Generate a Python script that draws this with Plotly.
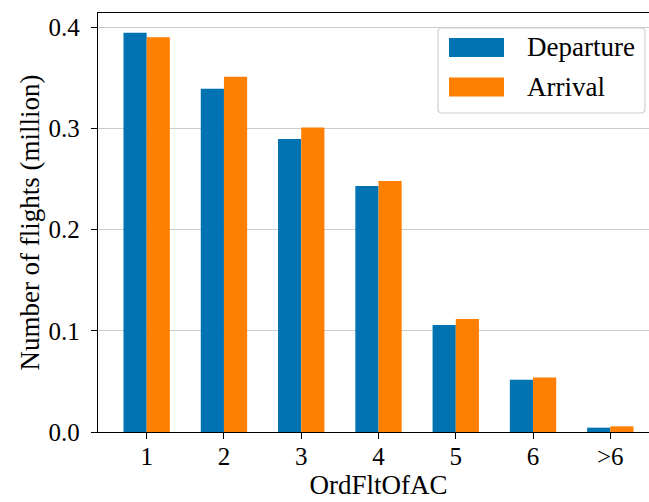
import plotly.graph_objects as go

categories = ["1", "2", "3", "4", "5", "6", ">6"]
departure = [0.3945, 0.339, 0.2895, 0.243, 0.1056, 0.0515, 0.0043]
arrival = [0.390, 0.351, 0.3007, 0.2479, 0.1116, 0.0539, 0.0056]
series_names = ["Departure", "Arrival"]
colors = ["#0173B2", "#FF7F00"]
y_ticks = [0.0, 0.1, 0.2, 0.3, 0.4]

FONT = "Liberation Serif, Times New Roman, serif"
FS_TICK = 25
FS_LAB = 27
# the reference figure is cropped on the right; the axes end just past the window edge
W, H = 659, 502
L, R, T, B = 98, 0, 13, 70

fig = go.Figure()
for name, vals, col in zip(series_names, [departure, arrival], colors):
    fig.add_trace(go.Bar(x=categories, y=vals, name=name, marker_color=col,
                         marker_line_width=0, showlegend=False))

# manual legend (matplotlib style)
pw, ph = W - L - R, H - T - B
def px(x):
    return (x - L) / pw
def py(y):
    return (H - B - y) / ph

x0, x1, y0, y1, r = 438, 645, 28, 113, 4
path = (f"M {px(x0+r)},{py(y0)} L {px(x1-r)},{py(y0)} Q {px(x1)},{py(y0)} {px(x1)},{py(y0+r)} "
        f"L {px(x1)},{py(y1-r)} Q {px(x1)},{py(y1)} {px(x1-r)},{py(y1)} "
        f"L {px(x0+r)},{py(y1)} Q {px(x0)},{py(y1)} {px(x0)},{py(y1-r)} "
        f"L {px(x0)},{py(y0+r)} Q {px(x0)},{py(y0)} {px(x0+r)},{py(y0)} Z")
fig.add_shape(type="path", path=path, xref="paper", yref="paper",
              line=dict(color="#d0d0d0", width=1.2), fillcolor="rgba(255,255,255,0.85)", layer="above")
for i, (name, col) in enumerate(zip(series_names, colors)):
    cy = 47.5 + i * 39.5
    fig.add_shape(type="rect", xref="paper", yref="paper",
                  x0=px(449), x1=px(504), y0=py(cy - 9.5), y1=py(cy + 9.5),
                  fillcolor=col, line_width=0, layer="above")
    fig.add_annotation(x=px(525), y=py(cy), xref="paper", yref="paper", text=name,
                       showarrow=False, xanchor="left", yanchor="middle",
                       font=dict(family=FONT, size=FS_LAB, color="black"))

fig.update_layout(
    width=W, height=H,
    margin=dict(l=L, r=R, t=T, b=B, pad=0),
    paper_bgcolor="white", plot_bgcolor="white",
    barmode="group", bargap=0.4, bargroupgap=0,
    font=dict(family=FONT, size=FS_TICK, color="black"),
)
fig.update_xaxes(
    type="category", range=[-0.63, 6.63],
    showline=True, linecolor="black", linewidth=1.3, mirror=True,
    ticks="outside", ticklen=6, tickwidth=1.2, tickcolor="black", ticklabelstandoff=-4,
    showgrid=False,
    title=dict(text="OrdFltOfAC", font=dict(family=FONT, size=FS_LAB), standoff=0),
)
fig.update_yaxes(
    range=[0, 0.4139], tickvals=y_ticks, ticktext=[f"{v:.1f}" for v in y_ticks],
    showline=True, linecolor="black", linewidth=1.3, mirror=False,
    ticks="outside", ticklen=6, tickwidth=1.2, tickcolor="black", ticklabelstandoff=6,
    showgrid=True, gridcolor="#cccccc", gridwidth=1, zeroline=False,
    title=dict(text="Number of flights (million)", font=dict(family=FONT, size=FS_LAB), standoff=1),
)

fig.write_html("out.html", config={"displayModeBar": False},
               post_script="document.documentElement.style.overflow='hidden';"
                           "document.body.style.margin='0';document.body.style.overflow='hidden';")
